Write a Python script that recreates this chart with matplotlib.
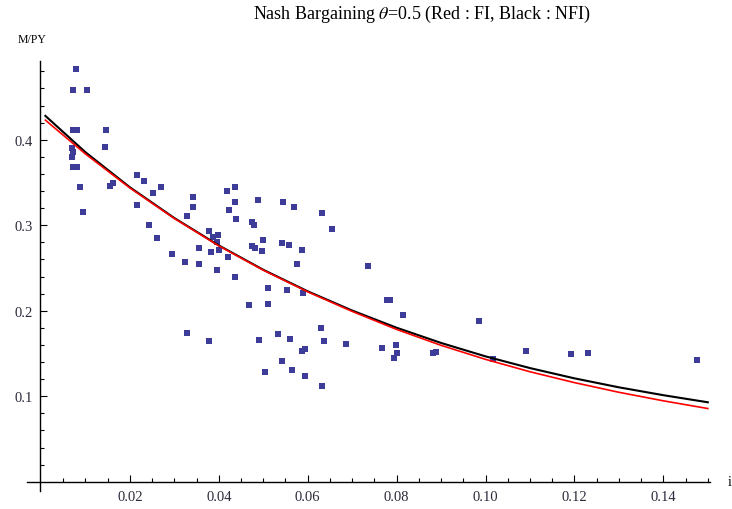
import numpy as np
import matplotlib.pyplot as plt
from matplotlib.ticker import FixedLocator

plt.rcParams['font.family'] = ['Liberation Serif', 'DejaVu Serif']
plt.rcParams['mathtext.fontset'] = 'stix'

# model curves
curve_x = [0.001, 0.01, 0.02, 0.03, 0.04, 0.05, 0.06, 0.07, 0.08,
           0.09, 0.10, 0.11, 0.12, 0.13, 0.14, 0.15]
nfi_y = [0.428, 0.3855, 0.3445, 0.3085, 0.2765, 0.2480, 0.2228, 0.2003, 0.1802,
         0.1624, 0.1467, 0.1330, 0.1210, 0.1105, 0.1013, 0.0930]
fi_y = [0.423, 0.3835, 0.3437, 0.3080, 0.2760, 0.2475, 0.2222, 0.1993, 0.1782,
        0.1596, 0.1432, 0.1287, 0.1160, 0.1047, 0.0947, 0.0857]

# observed data points
data_x = [0.00785, 0.00711, 0.01026, 0.00718, 0.00808, 0.01460, 0.01438, 0.00689,
          0.00711, 0.00689, 0.00725, 0.00801, 0.00875, 0.01550, 0.01625, 0.00936,
          0.02151, 0.02322, 0.02511, 0.02691, 0.02151, 0.02435, 0.02601, 0.03425,
          0.03411, 0.03276, 0.04190, 0.04235, 0.03785, 0.03987, 0.03951, 0.03875,
          0.03553, 0.02939, 0.03238, 0.03553, 0.03823, 0.04010, 0.03951, 0.04212,
          0.03276, 0.03785, 0.04363, 0.04363, 0.04386, 0.04887, 0.04739, 0.04791,
          0.05450, 0.05691, 0.06328, 0.06553, 0.04363, 0.04739, 0.04813, 0.04964,
          0.04986, 0.05414, 0.05578, 0.05864, 0.05765, 0.05099, 0.05540, 0.05900,
          0.04678, 0.05099, 0.07363, 0.07777, 0.07851, 0.04910, 0.05324, 0.05601,
          0.05864, 0.05938, 0.06298, 0.06373, 0.06854, 0.05414, 0.05639, 0.05938,
          0.05038, 0.06328, 0.07664, 0.07986, 0.08016, 0.07948, 0.08150, 0.09854,
          0.08825, 0.08886, 0.10158, 0.10911, 0.11924, 0.12295, 0.14766]
data_y = [0.4828, 0.4582, 0.4582, 0.4115, 0.4115, 0.4115, 0.3916, 0.3901,
          0.3854, 0.3795, 0.3678, 0.3678, 0.3451, 0.3456, 0.3495, 0.3156,
          0.3592, 0.3522, 0.3378, 0.3451, 0.3241, 0.3004, 0.2855, 0.3335,
          0.3214, 0.3112, 0.3405, 0.3179, 0.2937, 0.2890, 0.2805, 0.2860,
          0.2731, 0.2664, 0.2574, 0.2547, 0.2682, 0.2715, 0.2481, 0.2626,
          0.1737, 0.1647, 0.3451, 0.3276, 0.3074, 0.3296, 0.3035, 0.3004,
          0.3269, 0.3218, 0.3144, 0.2957, 0.2392, 0.2761, 0.2731, 0.2703,
          0.2828, 0.2789, 0.2773, 0.2715, 0.2547, 0.2267, 0.2243, 0.2208,
          0.2071, 0.2080, 0.2520, 0.2126, 0.2126, 0.1662, 0.1725, 0.1670,
          0.1526, 0.1553, 0.1799, 0.1643, 0.1612, 0.1409, 0.1311, 0.1241,
          0.1281, 0.1124, 0.1561, 0.1600, 0.1501, 0.1444, 0.1951, 0.1877,
          0.1503, 0.1515, 0.1436, 0.1526, 0.1495, 0.1506, 0.1421]

x_major = [0.02, 0.04, 0.06, 0.08, 0.10, 0.12, 0.14]
x_labels = ['0.02', '0.04', '0.06', '0.08', '0.10', '0.12', '0.14']
y_major = [0.1, 0.2, 0.3, 0.4]
y_labels = ['0.1', '0.2', '0.3', '0.4']

fig = plt.figure(figsize=(7.32, 5.10), dpi=100)
ax = fig.add_axes([0.0365, 0.0359, 0.9335, 0.8431])

ax.plot(data_x, data_y, 's', color='#3d3d99', markersize=4.0, markeredgewidth=0)
ax.plot(curve_x, nfi_y, color='black', lw=1.5)
ax.plot(curve_x, fi_y, color='red', lw=1.2)

ax.set_xlim(-0.0032, 0.1505)
ax.set_ylim(-0.0104, 0.4925)

for s in ['top', 'right']:
    ax.spines[s].set_visible(False)
ax.spines['left'].set_position(('data', -0.0003))
ax.spines['bottom'].set_position(('data', 0))
ax.spines['left'].set_linewidth(1.0)
ax.spines['bottom'].set_linewidth(1.0)

ax.set_xticks(x_major)
ax.set_xticklabels(x_labels)
ax.set_yticks(y_major)
ax.set_yticklabels(y_labels)
x_minor = [v for v in np.arange(1, 31) * 0.005 if min(abs(v - m) for m in x_major) > 1e-6]
y_minor = [v for v in np.arange(1, 25) * 0.02 if min(abs(v - m) for m in y_major) > 1e-6]
ax.xaxis.set_minor_locator(FixedLocator(x_minor))
ax.yaxis.set_minor_locator(FixedLocator(y_minor))
ax.tick_params(which='both', direction='in', width=0.8, colors='black',
               labelcolor='#2a2a3a', labelsize=10.5)
ax.tick_params(which='major', length=5)
ax.tick_params(which='minor', length=3)
ax.tick_params(axis='x', pad=6)
ax.tick_params(axis='y', pad=5)

fig.text(0.577, 0.972, r'Nash Bargaining $\theta$=0.5 (Red : FI, Black : NFI)',
         ha='center', va='center', fontsize=13)
fig.text(0.044, 0.921, 'M/PY', ha='center', va='center', fontsize=8.5)
fig.text(0.994, 0.053, 'i', ha='left', va='center', fontsize=10)

fig.savefig('out.png', dpi=100)
